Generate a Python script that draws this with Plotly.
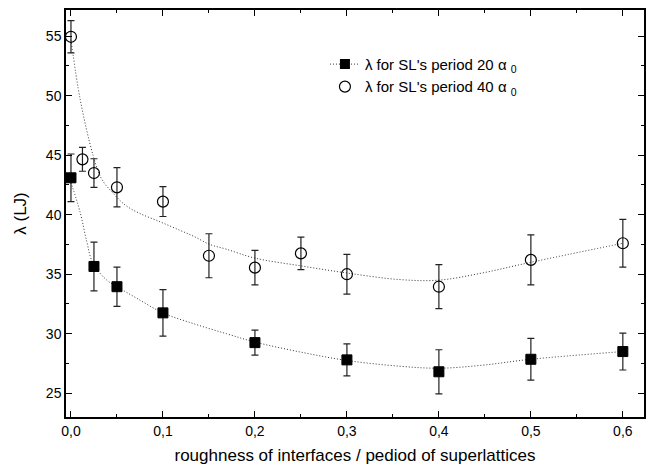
import plotly.graph_objects as go

# measured data: SL period 20 a0 (filled squares)
x1 = [0, 0.025, 0.05, 0.1, 0.2, 0.3, 0.4, 0.5, 0.6]
y1 = [43.1, 35.65, 33.95, 31.75, 29.25, 27.8, 26.8, 27.85, 28.5]
e1 = [2.0, 2.05, 1.65, 1.95, 1.05, 1.35, 1.85, 1.75, 1.55]

# measured data: SL period 40 a0 (open circles)
x2 = [0, 0.0125, 0.025, 0.05, 0.1, 0.15, 0.2, 0.25, 0.3, 0.4, 0.5, 0.6]
y2 = [54.95, 44.65, 43.5, 42.3, 41.1, 36.55, 35.55, 36.75, 35.0, 33.95, 36.2, 37.6]
e2 = [1.35, 1.0, 1.2, 1.65, 1.25, 1.85, 1.45, 1.37, 1.67, 1.85, 2.1, 2.0]

# dotted guide curves
fit1_x = [0, 0.01, 0.017, 0.024, 0.039, 0.05, 0.071, 0.1, 0.133, 0.169, 0.2, 0.25, 0.3, 0.357, 0.4, 0.447, 0.5, 0.6]
fit1_y = [42.7, 40.2, 37.8, 35.9, 34.5, 33.95, 33.0, 31.75, 30.85, 30.0, 29.3, 28.45, 27.75, 27.27, 27.1, 27.35, 27.85, 28.5]
fit2_x = [0, 0.01, 0.024, 0.033, 0.047, 0.06, 0.075, 0.097, 0.118, 0.133, 0.151, 0.169, 0.2, 0.25, 0.3, 0.357, 0.4, 0.447, 0.5, 0.6]
fit2_y = [54.7, 49.7, 45.0, 43.05, 41.7, 40.75, 40.1, 39.4, 38.7, 38.2, 37.5, 37.1, 36.35, 35.7, 35.1, 34.55, 34.5, 35.1, 36.0, 37.6]

name1 = "λ for SL's period 20 α <sub>0</sub>"
name2 = "λ for SL's period 40 α <sub>0</sub>"

FONT = "Liberation Sans, Arial, sans-serif"
DOT = "1px,2px"

fig = go.Figure()
fig.add_trace(go.Scatter(x=fit1_x, y=fit1_y, mode="lines", line=dict(color="#333", width=1, dash=DOT, shape="spline"),
                         showlegend=False, hoverinfo="skip"))
fig.add_trace(go.Scatter(x=fit2_x, y=fit2_y, mode="lines", line=dict(color="#333", width=1, dash=DOT, shape="spline"),
                         showlegend=False, hoverinfo="skip"))
fig.add_trace(go.Scatter(x=x1, y=y1, mode="markers",
                         marker=dict(symbol="square", size=10, color="black", line=dict(color="black", width=1)),
                         error_y=dict(type="data", array=e1, color="#222", thickness=1.2, width=3.5),
                         showlegend=False))
fig.add_trace(go.Scatter(x=x2, y=y2, mode="markers",
                         marker=dict(symbol="circle-open", size=11, color="black", line=dict(width=1.2)),
                         error_y=dict(type="data", array=e2, color="#222", thickness=1.2, width=3.5),
                         showlegend=False))
# legend entries
fig.add_trace(go.Scatter(x=[None], y=[None], mode="lines+markers", name=name1,
                         line=dict(color="#333", width=1, dash=DOT),
                         marker=dict(symbol="square", size=10, color="black")))
fig.add_trace(go.Scatter(x=[None], y=[None], mode="markers", name=name2,
                         marker=dict(symbol="circle-open", size=11, color="black", line=dict(width=1.2))))

axis_common = dict(showline=True, linecolor="black", linewidth=1.5, mirror="allticks",
                   ticks="inside", ticklen=6, tickwidth=1.2, tickcolor="black",
                   showgrid=False, zeroline=False,
                   tickfont=dict(family=FONT, size=14, color="black"))

fig.update_xaxes(range=[-0.0054, 0.623], tick0=0, dtick=0.1, tickformat=".1f",
                 minor=dict(dtick=0.05, ticks="inside", ticklen=3, tickwidth=1.2, tickcolor="black"),
                 title=dict(text="roughness of interfaces / pediod of superlattices",
                            font=dict(family=FONT, size=17, color="black"), standoff=12),
                 **axis_common)
fig.update_yaxes(range=[23.0, 57.2], tick0=0, dtick=5,
                 minor=dict(dtick=2.5, ticks="inside", ticklen=3, tickwidth=1.2, tickcolor="black"),
                 title=dict(text="λ (LJ)", font=dict(family=FONT, size=17, color="black"), standoff=15),
                 **axis_common)

fig.update_layout(width=654, height=470, margin=dict(l=66, r=8, t=8, b=52),
                  paper_bgcolor="white", plot_bgcolor="white", separators=", ",
                  font=dict(family=FONT, color="black"),
                  legend=dict(x=0.448, y=0.907, xanchor="left", yanchor="top", bgcolor="rgba(0,0,0,0)",
                              borderwidth=0, tracegroupgap=0,
                              font=dict(family=FONT, size=15, color="black")))

fig.write_html("out.html")
